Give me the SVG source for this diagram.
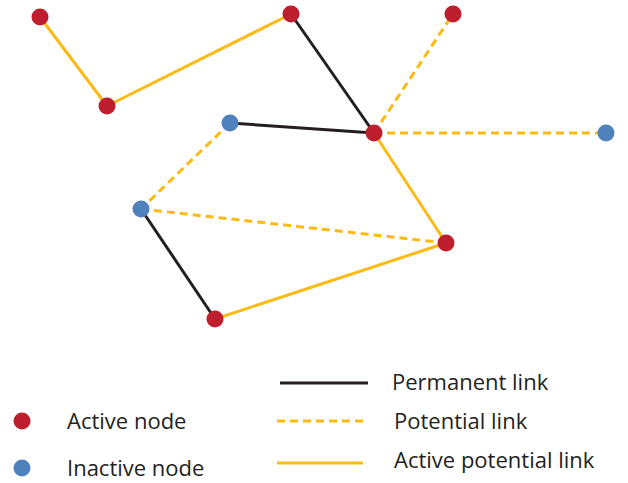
<svg xmlns="http://www.w3.org/2000/svg" width="628" height="483" viewBox="0 0 628 483">
<style>
.perm{stroke:#231f20;stroke-width:3;fill:none}
.pot{stroke:#fbbb14;stroke-width:3;stroke-dasharray:8,5;fill:none}
.act{stroke:#fbbb14;stroke-width:3;fill:none}
.red{fill:#be1e2d}
.blue{fill:#4f81bd}
text{font-family:"Open Sans","Liberation Sans",sans-serif;font-size:22px;fill:#231f20}
</style>
<rect width="628" height="483" fill="#fff"/>
<g id="connectors">
<line class="act" x1="40" y1="17" x2="107" y2="106"/>
<line class="act" x1="107" y1="106" x2="291" y2="14"/>
<line class="perm" x1="291" y1="14" x2="374" y2="133"/>
<line class="perm" x1="230" y1="123" x2="374" y2="133"/>
<line class="pot" x1="374" y1="133" x2="453" y2="14"/>
<line class="pot" x1="374" y1="133" x2="606" y2="133"/>
<line class="act" x1="374" y1="133" x2="446" y2="243"/>
<line class="pot" x1="230" y1="123" x2="141" y2="209"/>
<line class="pot" x1="141" y1="209" x2="446" y2="243"/>
<line class="perm" x1="141" y1="209" x2="215" y2="319"/>
<line class="act" x1="215" y1="319" x2="446" y2="243"/>
</g>
<g id="n1"><circle class="red" cx="40" cy="17" r="8.5"/></g>
<g id="n2"><circle class="red" cx="107" cy="106" r="8.5"/></g>
<g id="n3"><circle class="red" cx="291" cy="14" r="8.5"/></g>
<g id="n4"><circle class="blue" cx="230" cy="123" r="8.5"/></g>
<g id="n5"><circle class="red" cx="374" cy="133" r="8.5"/></g>
<g id="n6"><circle class="red" cx="453" cy="14" r="8.5"/></g>
<g id="n7"><circle class="blue" cx="606" cy="133" r="8.5"/></g>
<g id="n8"><circle class="blue" cx="141" cy="209" r="8.5"/></g>
<g id="n9"><circle class="red" cx="446" cy="243" r="8.5"/></g>
<g id="n10"><circle class="red" cx="215" cy="319" r="8.5"/></g>
<g id="legend">
<circle class="red" cx="22" cy="421" r="8.5"/>
<circle class="blue" cx="22" cy="468" r="8.5"/>
<text x="67" y="429">Active node</text>
<text x="67" y="476">Inactive node</text>
<line class="perm" x1="280" y1="383" x2="368" y2="383"/>
<line class="pot" x1="277" y1="421" x2="363" y2="421"/>
<line class="act" x1="277" y1="463" x2="363" y2="463"/>
<text x="392" y="390">Permanent link</text>
<text x="394" y="429">Potential link</text>
<text x="394" y="468">Active potential link</text>
</g>
</svg>
